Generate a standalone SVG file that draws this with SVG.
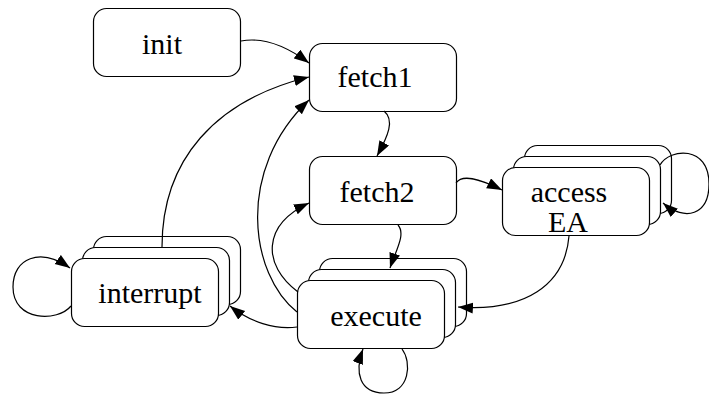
<svg xmlns="http://www.w3.org/2000/svg" width="709" height="394" viewBox="0 0 709 394">
  <style>
    .box { fill: #ffffff; stroke: #000000; stroke-width: 1.2; }
    .lbl { font-family: "Liberation Serif", "Times New Roman", Times, "Nimbus Roman", "Nimbus Roman No9 L", Tinos, "Noto Serif", "DejaVu Serif", FreeSerif, serif; font-size: 30px; fill: #000000; text-anchor: middle; }
    .edge { fill: none; stroke: #000000; stroke-width: 1.2; marker-end: url(#arrow); }
  </style>
  <defs>
    <marker id="arrow" markerUnits="userSpaceOnUse" markerWidth="16" markerHeight="12" refX="15" refY="5.5" orient="auto">
      <path d="M0,0 L15,5.5 L0,11 Z" fill="#000000"/>
    </marker>
    <rect id="state" width="147" height="68" rx="13" ry="13"/>
  </defs>

  <!-- states -->
  <g id="init">
    <use href="#state" class="box" x="93.5" y="8.5"/>
    <text class="lbl" x="162" y="54">init</text>
  </g>
  <g id="fetch1">
    <use href="#state" class="box" x="309.5" y="43.5"/>
    <text class="lbl" x="375" y="87">fetch1</text>
  </g>
  <g id="fetch2">
    <use href="#state" class="box" x="309.5" y="156.5"/>
    <text class="lbl" x="377" y="202">fetch2</text>
  </g>
  <g id="accessEA">
    <use href="#state" class="box" x="524.5" y="145.5"/>
    <use href="#state" class="box" x="513.5" y="156.5"/>
    <use href="#state" class="box" x="502.5" y="167.5"/>
    <text class="lbl" x="569" y="202">access</text>
    <text class="lbl" x="568" y="232">EA</text>
  </g>
  <g id="interrupt">
    <use href="#state" class="box" x="93.5" y="236.5"/>
    <use href="#state" class="box" x="82.5" y="247.5"/>
    <use href="#state" class="box" x="71.5" y="258.5"/>
    <text class="lbl" x="150" y="303">interrupt</text>
  </g>
  <g id="execute">
    <use href="#state" class="box" x="319.5" y="258.5"/>
    <use href="#state" class="box" x="308.5" y="269.5"/>
    <use href="#state" class="box" x="297.5" y="280.5"/>
    <text class="lbl" x="376" y="326">execute</text>
  </g>

  <!-- transitions -->
  <g id="edges">
    <path class="edge" d="M241,41 C262,37 285,45 309,63"/>
    <path class="edge" d="M162,247 C162,160 215,100 309,77"/>
    <path class="edge" d="M297,312 C250,275 235,170 309,100"/>
    <path class="edge" d="M384,111 C395,120 388,136 377,156"/>
    <path class="edge" d="M456,183 C462,174 478,178 502,190"/>
    <path class="edge" d="M398,225 C406,234 396,250 390,268"/>
    <path class="edge" d="M298,292 C262,265 262,225 309,203"/>
    <path class="edge" d="M297,327 C275,330 250,322 230,306"/>
    <path class="edge" d="M569,236 C565,285 525,312 458,307"/>
    <path class="edge" d="M660,165 C670,148 709,145 709,184 C709,215 685,222 663,203"/>
    <path class="edge" d="M71,306 C58,322 13,322 13,287 C13,258 40,247 70,268"/>
    <path class="edge" d="M402,349 C412,362 410,393 384,393 C360,393 354,373 363,349"/>
  </g>
</svg>
